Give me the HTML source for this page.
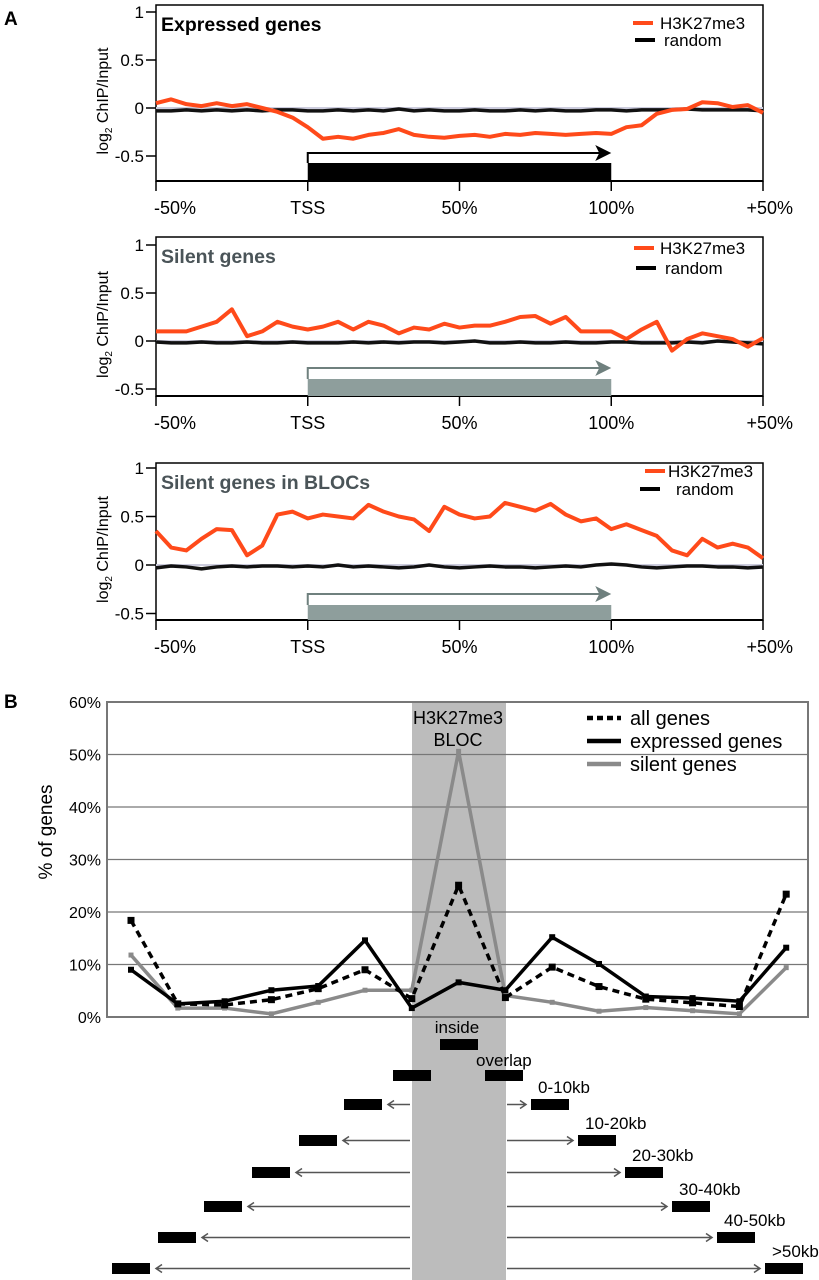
<!DOCTYPE html>
<html><head><meta charset="utf-8"><style>
html,body{margin:0;padding:0;background:#fff;}
svg{display:block;font-family:"Liberation Sans",sans-serif;}
</style></head><body>
<svg id="fig" width="819" height="1280" viewBox="0 0 819 1280" xmlns="http://www.w3.org/2000/svg">
<text x="4" y="25" font-size="19" font-weight="bold">A</text>
<text x="4" y="708" font-size="19" font-weight="bold">B</text>
<g id="pa"></g>
<g id="pb"></g>
</svg>
<script>
// ---------- Panel A data ----------
const posPct = [-50,-45,-40,-35,-30,-25,-20,-15,-10,-5,0,5,10,15,20,25,30,35,40,45,50,55,60,65,70,75,80,85,90,95,100,105,110,115,120,125,130,135,140,145,150];
const expressedH3 = [0.05,0.09,0.04,0.02,0.05,0.02,0.04,0.0,-0.04,-0.1,-0.2,-0.32,-0.3,-0.32,-0.28,-0.26,-0.22,-0.28,-0.3,-0.31,-0.29,-0.28,-0.3,-0.27,-0.28,-0.26,-0.27,-0.28,-0.27,-0.26,-0.27,-0.2,-0.18,-0.06,-0.02,-0.01,0.06,0.05,0.01,0.03,-0.05];
const expressedRandom = [-0.03,-0.03,-0.02,-0.03,-0.02,-0.03,-0.02,-0.03,-0.02,-0.02,-0.03,-0.03,-0.02,-0.03,-0.02,-0.03,-0.01,-0.03,-0.02,-0.03,-0.03,-0.02,-0.03,-0.03,-0.02,-0.03,-0.02,-0.03,-0.03,-0.02,-0.02,-0.03,-0.02,-0.02,-0.02,-0.01,-0.02,-0.02,-0.02,-0.02,-0.03];
const silentH3 = [0.1,0.1,0.1,0.15,0.2,0.33,0.05,0.1,0.2,0.15,0.12,0.15,0.2,0.12,0.2,0.16,0.08,0.14,0.12,0.18,0.14,0.16,0.16,0.2,0.25,0.26,0.18,0.25,0.1,0.1,0.1,0.02,0.12,0.2,-0.1,0.02,0.08,0.05,0.02,-0.06,0.03];
const silentRandom = [-0.01,-0.02,-0.02,-0.01,-0.02,-0.02,-0.01,-0.02,-0.02,-0.01,-0.02,-0.02,-0.02,-0.01,-0.02,-0.01,-0.02,-0.01,-0.01,-0.02,-0.01,0.0,-0.02,-0.02,-0.01,-0.02,-0.02,-0.01,-0.02,-0.02,-0.01,-0.01,-0.02,-0.02,-0.02,-0.01,-0.02,0.0,-0.01,-0.02,-0.03];
const blocH3 = [0.35,0.18,0.15,0.27,0.37,0.36,0.1,0.2,0.52,0.55,0.48,0.52,0.5,0.48,0.62,0.55,0.5,0.47,0.35,0.6,0.52,0.48,0.5,0.64,0.6,0.56,0.63,0.52,0.45,0.48,0.37,0.42,0.36,0.3,0.15,0.1,0.27,0.18,0.22,0.18,0.07];
const blocRandom = [-0.03,-0.01,-0.02,-0.04,-0.02,-0.01,-0.02,-0.01,-0.01,-0.02,-0.01,-0.02,0.0,-0.02,-0.01,-0.02,-0.03,-0.02,0.0,-0.02,-0.03,-0.02,-0.01,-0.02,-0.02,-0.03,-0.02,-0.01,-0.02,0.0,0.01,0.0,-0.02,-0.03,-0.02,-0.01,-0.01,-0.02,-0.02,-0.03,-0.02];
const aYTicks = [1,0.5,0,-0.5];
const aYTickLabels = ["1","0.5","0","-0.5"];
const aXTicks = [-50,0,50,100,150];
const aXTickLabels = ["-50%","TSS","50%","100%","+50%"];

// ---------- Panel B data ----------
const bCategories = ["-50kb+","-40-50kb","-30-40kb","-20-30kb","-10-20kb","-0-10kb","overlap-L","inside","overlap-R","0-10kb","10-20kb","20-30kb","30-40kb","40-50kb",">50kb"];
const allGenes = [18.4,2.5,2.3,3.3,5.4,9.0,3.5,25.1,3.7,9.5,5.8,3.4,2.7,2.0,23.4];
const expressedGenes = [9.0,2.5,3.0,5.1,5.9,14.6,1.7,6.6,5.1,15.2,10.1,3.9,3.6,3.0,13.2];
const silentGenes = [11.8,1.7,1.7,0.6,2.8,5.1,5.1,50.6,4.1,2.8,1.1,1.8,1.2,0.6,9.4];
const bYTicks = [0,10,20,30,40,50,60];
const bYTickLabels = ["0%","10%","20%","30%","40%","50%","60%"];
const distLabels = ["0-10kb","10-20kb","20-30kb","30-40kb","40-50kb",">50kb"];

const NS = "http://www.w3.org/2000/svg";
function mk(tag, attrs, parent, txt){
  const e = document.createElementNS(NS, tag);
  for (const k in attrs) e.setAttribute(k, attrs[k]);
  if (txt !== undefined) e.textContent = txt;
  parent.appendChild(e);
  return e;
}
const pa = document.getElementById('pa');
const pb = document.getElementById('pb');

const panels = [
  {top:5, bottom:181, zero:108, unit:96, title:"Expressed genes", tcol:"#000", h3:expressedH3, rnd:expressedRandom, arrowY:153, rectTop:163, gcol:"#000", leg:[23,40], lx:[633,635], tx:[660,664], labY:214, key:"expressed"},
  {top:237, bottom:396, zero:341, unit:96, title:"Silent genes", tcol:"#4a5458", h3:silentH3, rnd:silentRandom, arrowY:368, rectTop:379, gcol:"#8e9e9c", leg:[248,268], lx:[634,636], tx:[660,665], labY:429, key:"silent"},
  {top:463, bottom:620, zero:565, unit:97, title:"Silent genes in BLOCs", tcol:"#4a5458", h3:blocH3, rnd:blocRandom, arrowY:594, rectTop:605, gcol:"#8e9e9c", leg:[471,489], lx:[645,640], tx:[668,676], labY:653, key:"bloc"}
];
const AL = 156, AR = 763;
function ax(p){ return AL + (p + 50) / 200 * (AR - AL); }

panels.forEach(function(P){
  const g = mk('g', {}, pa);
  
  
  function ay(v){ return P.zero - v * P.unit; }
  const box = mk('path', {d:`M${AL},${P.bottom} L${AL},${P.top} L${AR},${P.top} L${AR},${P.bottom} Z`, fill:'none', stroke:'#000', 'stroke-width':1.5}, g);
  
  
  const xl = mk('line', {x1:AL, x2:AR, y1:P.bottom, y2:P.bottom, stroke:'#000', 'stroke-width':2}, g);
  
  
  const zl = mk('line', {x1:AL, x2:AR, y1:ay(0), y2:ay(0), stroke:'#ccd', 'stroke-width':2}, g);
  
  
  aYTicks.forEach(function(t, i){
    const y = ay(t);
    if (y < P.top - 2 || y > P.bottom) return;
    const tk = mk('line', {x1:AL-10, x2:AL, y1:y, y2:y, stroke:'#000', 'stroke-width':1.5}, g);
    
    
    const tl = mk('text', {x:AL-12, y:y+6, 'font-size':17, 'text-anchor':'end'}, g, aYTickLabels[i]);
    
    
  });
  aXTicks.forEach(function(t, i){
    const x = ax(t);
    const tk = mk('line', {x1:x, x2:x, y1:P.bottom, y2:P.bottom+10, stroke:'#000', 'stroke-width':1.5}, g);
    
    
    let anchor = 'middle', tx = x;
    if (i === 0){ anchor = 'start'; tx = x - 2; }
    if (i === aXTicks.length - 1){ anchor = 'end'; tx = x + 30; }
    const tl = mk('text', {x:tx, y:P.labY, 'font-size':18, 'text-anchor':anchor}, g, aXTickLabels[i]);
    
    
  });
  const yc = (P.top + P.bottom) / 2 + 8;
  const yt = mk('text', {x:0, y:0, 'font-size':16, 'text-anchor':'middle', transform:`translate(108,${yc}) rotate(-90)`}, g);
  
  
  mk('tspan', {}, yt, 'log');
  mk('tspan', {'font-size':10, dy:4}, yt, '2');
  mk('tspan', {dy:-4}, yt, ' ChIP/Input');
  const tt = mk('text', {x:161, y:P.top + 26, 'font-size':19.5, 'font-weight':'bold', fill:P.tcol}, g, P.title);
  
  
  const rect = mk('rect', {x:ax(0), y:P.rectTop, width:ax(100)-ax(0), height:P.bottom-P.rectTop, fill:P.gcol}, g);
  
  
  const acol = P.gcol === '#000' ? '#000' : '#6f807e';
  const arr = mk('path', {d:`M${ax(0)},${P.rectTop} L${ax(0)},${P.arrowY} L${ax(100)-4},${P.arrowY}`, fill:'none', stroke:acol, 'stroke-width':2}, g);
  
  
  const ah = mk('path', {d:`M${ax(100)},${P.arrowY} L${ax(100)-16},${P.arrowY-8} L${ax(100)-12},${P.arrowY} L${ax(100)-16},${P.arrowY+8} Z`, fill:acol}, g);
  
  
  const rp = posPct.map(function(p, i){ return ax(p) + ',' + ay(P.rnd[i]); }).join(' ');
  const rl = mk('polyline', {points:rp, fill:'none', stroke:'#111', 'stroke-width':3.5, 'stroke-linejoin':'round'}, g);
  
  
  const hp = posPct.map(function(p, i){ return ax(p) + ',' + ay(P.h3[i]); }).join(' ');
  const hl = mk('polyline', {points:hp, fill:'none', stroke:'#ff4a1a', 'stroke-width':4, 'stroke-linejoin':'round'}, g);
  
  
  const l1 = mk('line', {x1:P.lx[0], x2:P.lx[0]+20, y1:P.leg[0], y2:P.leg[0], stroke:'#ff4a1a', 'stroke-width':4}, g);
  
  
  const t1 = mk('text', {x:P.tx[0], y:P.leg[0]+6, 'font-size':17}, g, 'H3K27me3');
  
  
  const l2 = mk('line', {x1:P.lx[1], x2:P.lx[1]+20, y1:P.leg[1], y2:P.leg[1], stroke:'#000', 'stroke-width':4}, g);
  
  
  const t2 = mk('text', {x:P.tx[1], y:P.leg[1]+6, 'font-size':17}, g, 'random');
  
  
});

// ---------- Panel B ----------
const BL = 107, BR = 808, BT = 702, BB = 1017;
function bx(i){ return 131 + i * 46.8; }
function by(v){ return BB - v / 60 * (BB - BT); }

const band = mk('rect', {x:412, y:BT, width:94, height:1280-BT, fill:'#bcbcbc'}, pb);


bYTicks.forEach(function(t, i){
  const gl = mk('line', {x1:BL, x2:BR, y1:by(t), y2:by(t), stroke:'#777', 'stroke-width':1.2}, pb);
  
  
  const tl = mk('text', {x:101, y:by(t)+6, 'font-size':16, 'text-anchor':'end'}, pb, bYTickLabels[i]);
  
  
});
const bframe = mk('rect', {x:BL, y:BT, width:BR-BL, height:BB-BT, fill:'none', stroke:'#777', 'stroke-width':2}, pb);


const byt = mk('text', {x:0, y:0, 'font-size':19, 'text-anchor':'middle', transform:'translate(52,832) rotate(-90)'}, pb, '% of genes');



function series(vals, color, dash, name, mark){
  const pts = vals.map(function(v, i){ return bx(i) + ',' + by(v); }).join(' ');
  const pl = mk('polyline', {points:pts, fill:'none', stroke:color, 'stroke-width':3.5, 'stroke-dasharray':dash}, pb);
  
  
  vals.forEach(function(v, i){
    const m = mk('rect', {x:bx(i)-mark/2, y:by(v)-mark/2, width:mark, height:mark, fill:color}, pb);
    
    
  });
}
series(silentGenes, '#8a8a8a', 'none', 'silent-genes', 5);
series(expressedGenes, '#000', 'none', 'expressed-genes', 6);
series(allGenes, '#000', '7,5', 'all-genes', 7);

const bt1 = mk('text', {x:458, y:724, 'font-size':18, 'text-anchor':'middle'}, pb, 'H3K27me3');


const bt2 = mk('text', {x:458, y:746, 'font-size':18, 'text-anchor':'middle'}, pb, 'BLOC');


const legs = [["all genes", '#000', '6,4'],["expressed genes", '#000', 'none'],["silent genes", '#8a8a8a', 'none']];
legs.forEach(function(L, i){
  const y = 718 + i * 23;
  const ln = mk('line', {x1:587, x2:621, y1:y, y2:y, stroke:L[1], 'stroke-width':4.5, 'stroke-dasharray':L[2]}, pb);
  
  
  const tx = mk('text', {x:630, y:y+7, 'font-size':20}, pb, L[0]);
  
  
});

function bar(x, y, name){
  const r = mk('rect', {x:x, y:y, width:38, height:11, fill:'#000'}, pb);
  
  
}
bar(440, 1039, 'inside-gene-bar');
const ti = mk('text', {x:457, y:1033, 'font-size':17, 'text-anchor':'middle'}, pb, 'inside');


bar(393, 1070, 'overlap-gene-bar-left');
bar(485, 1070, 'overlap-gene-bar-right');
const to = mk('text', {x:476, y:1066, 'font-size':17}, pb, 'overlap');


const rowY = [1099, 1135, 1167, 1201, 1232, 1263];
const leftX = [344, 299, 252, 204, 158, 112];
const rightX = [531, 578, 625, 672, 717, 765];
distLabels.forEach(function(lbl, i){
  const y = rowY[i];
  bar(leftX[i], y, 'gene-bar-left');
  bar(rightX[i], y, 'gene-bar-right');
  const cy = y + 5.5;
  const la = mk('path', {d:`M410,${cy} L${leftX[i]+44},${cy} M${leftX[i]+50},${cy-4} L${leftX[i]+44},${cy} L${leftX[i]+50},${cy+4}`, fill:'none', stroke:'#555', 'stroke-width':1.5}, pb);
  
  
  const ra = mk('path', {d:`M507,${cy} L${rightX[i]-5},${cy} M${rightX[i]-11},${cy-4} L${rightX[i]-5},${cy} L${rightX[i]-11},${cy+4}`, fill:'none', stroke:'#555', 'stroke-width':1.5}, pb);
  
  
  const t = mk('text', {x:rightX[i]+7, y:y-6, 'font-size':17}, pb, lbl);
  
  
});
</script>
</body></html>
